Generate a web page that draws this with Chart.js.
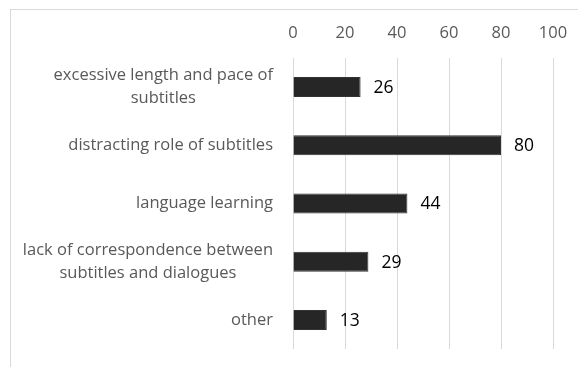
<!DOCTYPE html>
<html>
<head>
<meta charset="utf-8">
<script src="https://cdn.jsdelivr.net/npm/chart.js@4.4.1/dist/chart.umd.min.js"></script>
<style>
  html, body { margin: 0; padding: 0; background: #fff; }
  #wrap { position: relative; width: 578px; height: 367px; overflow: hidden; }
  #frame { position: absolute; left: 10px; top: 9px; width: 600px; height: 400px;
           border-left: 1px solid #d9d9d9; border-top: 1px solid #d9d9d9; }
  canvas { position: absolute; left: 0; top: 0; }
</style>
</head>
<body>
<div id="wrap">
  <div id="frame"></div>
  <canvas id="myChart" width="578" height="367"></canvas>
</div>
<script>
// reasons given, one bar each
const categories = [
    ['excessive length and pace of', 'subtitles'],
    'distracting role of subtitles',
    'language learning',
    ['lack of correspondence between', 'subtitles and dialogues'],
    'other'
];
const values = [26, 80, 44, 29, 13];
const tickValues = [0, 20, 40, 60, 80, 100];

const FONT = "'Open Sans', sans-serif";
const GREY_TEXT = '#595959';

// category labels: block right aligned, lines centred inside the block
const categoryLabels = {
    id: 'categoryLabels',
    afterDraw(chart) {
        const ctx = chart.ctx;
        const yScale = chart.scales.y;
        const lineHeight = 23;
        ctx.save();
        ctx.font = '16.5px ' + FONT;
        ctx.fillStyle = GREY_TEXT;
        ctx.textAlign = 'center';
        ctx.textBaseline = 'middle';
        categories.forEach((label, i) => {
            const lines = Array.isArray(label) ? label : [label];
            const widest = Math.max(...lines.map(l => ctx.measureText(l).width));
            const cx = yScale.right - 20 - widest / 2;
            const cy = yScale.getPixelForValue(i);
            lines.forEach((line, j) => {
                ctx.fillText(line, cx, cy + (j - (lines.length - 1) / 2) * lineHeight);
            });
        });
        ctx.restore();
    }
};

// value printed just after the end of each bar
const valueLabels = {
    id: 'valueLabels',
    afterDatasetsDraw(chart) {
        const ctx = chart.ctx;
        const meta = chart.getDatasetMeta(0);
        ctx.save();
        ctx.font = '17.5px ' + FONT;
        ctx.fillStyle = '#000';
        ctx.textAlign = 'left';
        ctx.textBaseline = 'middle';
        meta.data.forEach((bar, i) => {
            ctx.fillText(String(values[i]), bar.x + 13, bar.y + 1);
        });
        ctx.restore();
    }
};

const ctx = document.getElementById('myChart').getContext('2d');

window.myChart = new Chart(ctx, {
    type: 'bar',
    data: {
        labels: categories,
        datasets: [{
            data: values,
            backgroundColor: '#262626',
            borderColor: '#333333',
            borderWidth: 1,
            barPercentage: 0.86,
            categoryPercentage: 0.4,
        }],
    },
    options: {
        indexAxis: 'y',
        responsive: false,
        animation: false,
        layout: {
            padding: { top: 0, right: 25, bottom: 18, left: 0 },
        },
        plugins: {
            legend: { display: false },
            tooltip: { enabled: false },
        },
        scales: {
            x: {
                position: 'top',
                min: 0,
                max: 100,
                afterBuildTicks: (scale) => {
                    scale.ticks = tickValues.map(v => ({ value: v }));
                },
                afterFit: (scale) => {
                    scale.height = 58;
                    scale.paddingLeft = 0;
                    scale.paddingRight = 0;
                },
                ticks: {
                    padding: 15,
                    color: GREY_TEXT,
                    font: { family: FONT, size: 16.5 },
                },
                grid: {
                    color: '#d9d9d9',
                    drawTicks: false,
                },
                border: { display: false },
            },
            y: {
                afterFit: (scale) => { scale.width = 293; },
                ticks: { display: false },
                grid: { display: false },
                border: { display: false },
            },
        },
    },
    plugins: [categoryLabels, valueLabels],
});
</script>
</body>
</html>
